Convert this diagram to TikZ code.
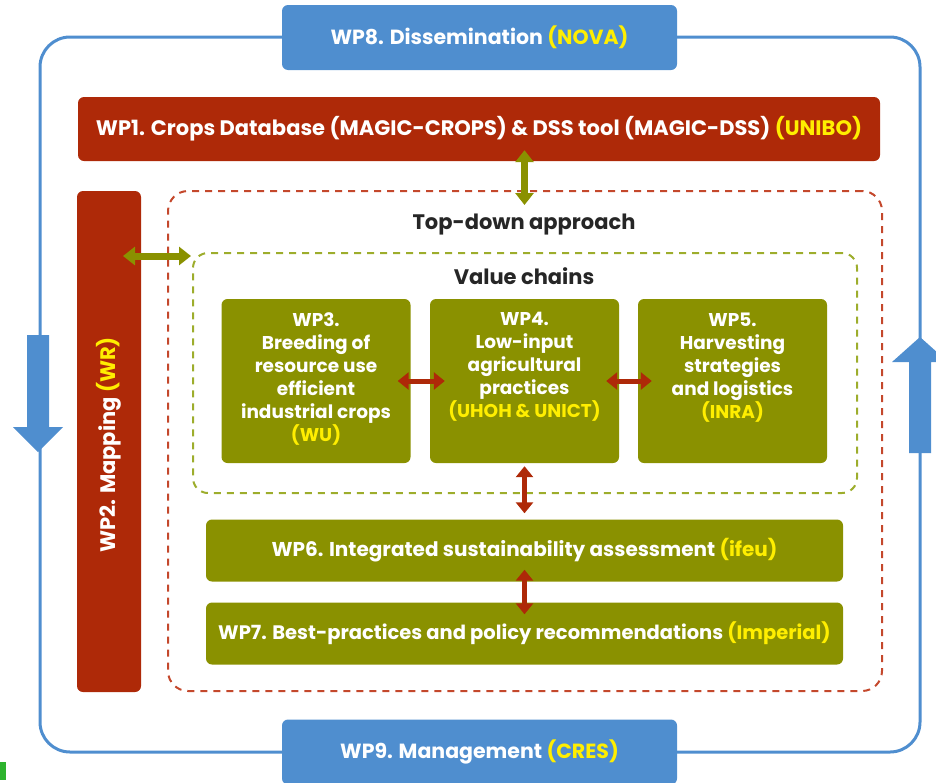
\documentclass[tikz,border=0pt]{standalone}
\usepackage{fontspec}
\setmainfont{Poppins}
\usetikzlibrary{arrows.meta}
\definecolor{wpblue}{HTML}{4F8ECF}
\definecolor{wpred}{HTML}{AE2908}
\definecolor{wpolive}{HTML}{8A9100}
\definecolor{wpyellow}{HTML}{FFEE00}
\definecolor{dashred}{HTML}{C4482C}
\definecolor{dashgreen}{HTML}{9DAD2C}
\definecolor{txtdark}{HTML}{262626}
\definecolor{markgreen}{HTML}{2DB32D}
\newcommand{\yl}[1]{\textcolor{wpyellow}{#1}}
\begin{document}
\begin{tikzpicture}[x=1pt,y=-1pt,
  boxbase/.style={rounded corners=6pt, inner sep=0pt, text=white, align=center},
  bluebox/.style={boxbase, fill=wpblue, font=\fontsize{20.5}{24}\selectfont\bfseries},
  redbox/.style={boxbase, fill=wpred, font=\fontsize{21}{24}\selectfont\bfseries},
  olivebox/.style={boxbase, fill=wpolive, font=\fontsize{20}{24}\selectfont\bfseries},
  smallbox/.style={boxbase, fill=wpolive, minimum width=189pt, minimum height=164pt},
  smalltext/.style={anchor=north, align=center, text=white, font=\fontsize{18.5}{23}\selectfont\bfseries},
  redarr/.style={draw=wpred, line width=5pt,
     {Triangle[width=17pt,length=11pt]}-{Triangle[width=17pt,length=11pt]}},
  greenarr/.style={draw=wpolive, line width=7pt,
     {Triangle[width=18pt,length=12pt]}-{Triangle[width=18pt,length=12pt]}},
  outerline/.style={draw=wpblue, line width=3pt, rounded corners=30pt},
  blockarrow/.style={fill=wpblue},
  tdframe/.style={draw=dashred, line width=2pt, dash pattern=on 7pt off 6pt, rounded corners=20pt, inner sep=0pt},
  vcframe/.style={draw=dashgreen, line width=2pt, dash pattern=on 7pt off 6pt, rounded corners=15pt, inner sep=0pt},
  heading/.style={text=txtdark, font=\fontsize{21}{24}\selectfont\bfseries}
]
\useasboundingbox (0,0) rectangle (936,782);

% outer cycle line
\draw[outerline] (40,37) rectangle (920,752);

% block arrows on the cycle
\fill[blockarrow] (27,335) -- (49,335) -- (49,427) -- (63,427) -- (38,452) -- (13,427) -- (27,427) -- cycle;
\fill[blockarrow] (909,453) -- (931,453) -- (931,362) -- (948,362) -- (920,337) -- (892,362) -- (909,362) -- cycle;

% small green mark
\fill[markgreen] (0,762) rectangle (6,780);

% WP8 / WP9
\node[bluebox, minimum width=395pt, minimum height=65pt] (wp8) at (479.5,37.5) {WP8. Dissemination \yl{(NOVA)}};
\node[bluebox, minimum width=395pt, minimum height=65pt] (wp9) at (479.5,752) {WP9. Management \yl{(CRES)}};

% WP1
\node[redbox, minimum width=802pt, minimum height=64pt] (wp1) at (479,129) {WP1. Crops Database (MAGIC-CROPS) \& DSS tool (MAGIC-DSS) \yl{(UNIBO)}};

% WP2
\node[redbox, minimum width=64pt, minimum height=501pt] (wp2) at (109,441.5) {};
\node[redbox, fill=none, rotate=90] (wp2t) at (109,445) {WP2. Mapping \yl{(WR)}};

% frames
\node[tdframe, minimum width=714pt, minimum height=500pt] (td) at (525,441) {};
\node[vcframe, minimum width=664pt, minimum height=240pt] (vc) at (525,373) {};
\node[heading] (tdt) at (524,225) {Top-down approach};
\node[heading] (vct) at (524,276) {Value chains};

% value chain boxes
\node[smallbox] (wp3) at (316,381) {};
\node[smallbox] (wp4) at (524.5,381) {};
\node[smallbox] (wp5) at (732.5,381) {};
\node[smalltext] (wp3t) at (316,309)
  {WP3.\\Breeding of\\resource use\\efficient\\industrial crops\\\yl{(WU)}};
\node[smalltext] (wp4t) at (524.5,309)
  {WP4.\\Low-input\\agricultural\\practices\\\yl{(UHOH \& UNICT)}};
\node[smalltext] (wp5t) at (732.5,309)
  {WP5.\\Harvesting\\strategies\\and logistics\\\yl{(INRA)}};

% WP6, WP7
\node[olivebox, minimum width=637pt, minimum height=62pt] (wp6) at (524.5,550.5) {WP6. Integrated sustainability assessment \yl{(ifeu)}};
\node[olivebox, minimum width=637pt, minimum height=62pt, font=\fontsize{19.5}{24}\selectfont\bfseries] (wp7) at (524.5,633.5) {WP7. Best-practices and policy recommendations \yl{(Imperial)}};

% connectors
\draw[redarr, shorten <=-13pt, shorten >=-15pt] (wp3.east) -- (wp4.west);
\draw[redarr, shorten <=-13pt, shorten >=-14pt] (wp4.east) -- (wp5.west);
\draw[redarr, shorten <=3pt, shorten >=6pt] (wp4.south) -- (wp6.north);
\draw[redarr, shorten <=-12pt, shorten >=-12pt] (wp6.south) -- (wp7.north);
\draw[greenarr, shorten <=-11pt, shorten >=-15pt] (wp1.south -| wp4.north) -- (td.north -| wp4.north);
\coordinate (la) at (141,256);
\draw[greenarr, shorten <=-18pt, shorten >=1pt] (la) -- (la -| vc.west);
\end{tikzpicture}
\end{document}
